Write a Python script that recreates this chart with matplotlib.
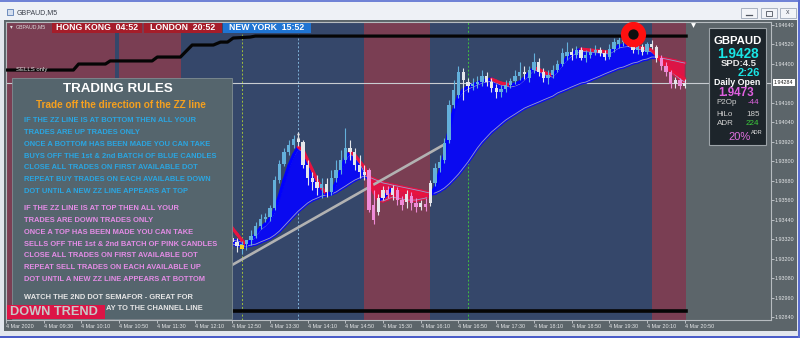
import numpy as np
import matplotlib
matplotlib.use("Agg")
import matplotlib.pyplot as plt
from matplotlib import font_manager
from matplotlib.collections import LineCollection
from matplotlib.patches import Rectangle
from matplotlib.transforms import blended_transform_factory

plt.rcParams['font.family'] = ['Liberation Sans', 'DejaVu Sans']

# ---- GBPAUD M5, 4 Mar 2020 (bar 0 = 08:50, one bar every 5 minutes) ----
bars = np.arange(47, 145)

opens = [1.93364, 1.93327, 1.93303, 1.93278, 1.93290, 1.93315, 1.93340, 1.93401, 1.93444, 1.93457,
         1.93512, 1.93684, 1.93783, 1.93857, 1.93900, 1.93937, 1.93918, 1.93777, 1.93697, 1.93672,
         1.93635, 1.93660, 1.93610, 1.93697, 1.93746, 1.93807, 1.93881, 1.93857, 1.93777, 1.93733,
         1.93746, 1.93530, 1.93487, 1.93573, 1.93623, 1.93592, 1.93623, 1.93561, 1.93549, 1.93586,
         1.93543, 1.93518, 1.93537, 1.93543, 1.93666, 1.93758, 1.93807, 1.93930, 1.94146, 1.94207,
         1.94349, 1.94287, 1.94263, 1.94275, 1.94287, 1.94324, 1.94287, 1.94250, 1.94226, 1.94244,
         1.94269, 1.94293, 1.94324, 1.94349, 1.94312, 1.94361, 1.94410, 1.94349, 1.94312, 1.94330,
         1.94361, 1.94398, 1.94447, 1.94472, 1.94453, 1.94484, 1.94435, 1.94453, 1.94472, 1.94484,
         1.94466, 1.94441, 1.94490, 1.94521, 1.94533, 1.94558, 1.94533, 1.94484, 1.94503, 1.94472,
         1.94521, 1.94503, 1.94435, 1.94386, 1.94349, 1.94275, 1.94300, 1.94263]
highs = [1.93389, 1.93346, 1.93327, 1.93309, 1.93315, 1.93377, 1.93426, 1.93475, 1.93481, 1.93530,
         1.93709, 1.93807, 1.93881, 1.93930, 1.93961, 1.93980, 1.93930, 1.93807, 1.93733, 1.93715,
         1.93697, 1.93697, 1.93746, 1.93807, 1.93869, 1.94004, 1.93930, 1.93881, 1.93838, 1.93777,
         1.93758, 1.93623, 1.93598, 1.93647, 1.93647, 1.93653, 1.93641, 1.93586, 1.93623, 1.93610,
         1.93573, 1.93561, 1.93573, 1.93684, 1.93789, 1.93838, 1.93943, 1.94177, 1.94300, 1.94386,
         1.94373, 1.94312, 1.94312, 1.94324, 1.94361, 1.94349, 1.94312, 1.94275, 1.94269, 1.94300,
         1.94312, 1.94361, 1.94410, 1.94386, 1.94386, 1.94466, 1.94435, 1.94373, 1.94361, 1.94392,
         1.94423, 1.94497, 1.94533, 1.94497, 1.94509, 1.94503, 1.94484, 1.94497, 1.94515, 1.94503,
         1.94484, 1.94521, 1.94558, 1.94564, 1.94577, 1.94583, 1.94589, 1.94521, 1.94521, 1.94533,
         1.94546, 1.94515, 1.94453, 1.94410, 1.94361, 1.94318, 1.94312, 1.94306]
lows = [1.93303, 1.93260, 1.93241, 1.93229, 1.93254, 1.93284, 1.93327, 1.93383, 1.93426, 1.93432,
        1.93500, 1.93666, 1.93770, 1.93838, 1.93881, 1.93893, 1.93758, 1.93653, 1.93623, 1.93592,
        1.93573, 1.93580, 1.93592, 1.93672, 1.93721, 1.93789, 1.93807, 1.93746, 1.93697, 1.93684,
        1.93487, 1.93413, 1.93469, 1.93561, 1.93573, 1.93561, 1.93530, 1.93500, 1.93512, 1.93500,
        1.93487, 1.93500, 1.93493, 1.93524, 1.93647, 1.93733, 1.93789, 1.93912, 1.94127, 1.94189,
        1.94177, 1.94226, 1.94238, 1.94250, 1.94263, 1.94263, 1.94226, 1.94189, 1.94195, 1.94226,
        1.94250, 1.94275, 1.94300, 1.94306, 1.94287, 1.94343, 1.94324, 1.94287, 1.94275, 1.94312,
        1.94349, 1.94386, 1.94423, 1.94423, 1.94435, 1.94423, 1.94410, 1.94435, 1.94453, 1.94447,
        1.94423, 1.94429, 1.94472, 1.94497, 1.94509, 1.94509, 1.94466, 1.94460, 1.94453, 1.94460,
        1.94490, 1.94410, 1.94361, 1.94324, 1.94250, 1.94250, 1.94244, 1.94250]
closes = [1.93327, 1.93303, 1.93278, 1.93290, 1.93315, 1.93340, 1.93401, 1.93444, 1.93457, 1.93512,
          1.93684, 1.93783, 1.93857, 1.93900, 1.93937, 1.93918, 1.93777, 1.93697, 1.93672, 1.93635,
          1.93660, 1.93610, 1.93697, 1.93746, 1.93807, 1.93881, 1.93857, 1.93777, 1.93733, 1.93715,
          1.93500, 1.93438, 1.93573, 1.93623, 1.93592, 1.93635, 1.93561, 1.93530, 1.93598, 1.93543,
          1.93518, 1.93543, 1.93518, 1.93666, 1.93758, 1.93795, 1.93912, 1.94146, 1.94238, 1.94349,
          1.94300, 1.94263, 1.94275, 1.94287, 1.94324, 1.94287, 1.94250, 1.94226, 1.94244, 1.94269,
          1.94293, 1.94324, 1.94349, 1.94337, 1.94361, 1.94410, 1.94349, 1.94312, 1.94330, 1.94361,
          1.94398, 1.94466, 1.94472, 1.94453, 1.94484, 1.94435, 1.94453, 1.94472, 1.94484, 1.94466,
          1.94441, 1.94490, 1.94533, 1.94546, 1.94558, 1.94533, 1.94484, 1.94503, 1.94472, 1.94521,
          1.94503, 1.94435, 1.94386, 1.94349, 1.94275, 1.94300, 1.94263, 1.94284]

# thick trend line (blue rising / red falling) and the two averages of the ribbon
trend_line = [1.93426, 1.93389, 1.93352, 1.93315, 1.93284, 1.93315, 1.93352, 1.93389, 1.93413, 1.93444,
              1.93500, 1.93586, 1.93684, 1.93770, 1.93838, 1.93887, 1.93869, 1.93807, 1.93746, 1.93684,
              1.93635, 1.93598, 1.93604, 1.93666, 1.93746, 1.93820, 1.93857, 1.93838, 1.93801, 1.93764,
              1.93697, 1.93623, 1.93561, 1.93573, 1.93604, 1.93635, 1.93629, 1.93623, 1.93617, 1.93610,
              1.93604, 1.93598, 1.93592, 1.93586, 1.93635, 1.93733, 1.93838, 1.93992, 1.94115, 1.94201,
              1.94238, 1.94257, 1.94269, 1.94281, 1.94293, 1.94300, 1.94306, 1.94293, 1.94281, 1.94275,
              1.94269, 1.94275, 1.94287, 1.94312, 1.94343, 1.94373, 1.94367, 1.94349, 1.94337, 1.94330,
              1.94361, 1.94398, 1.94435, 1.94460, 1.94478, 1.94490, 1.94487, 1.94484, 1.94481, 1.94478,
              1.94475, 1.94472, 1.94490, 1.94509, 1.94515, 1.94518, 1.94509, 1.94503, 1.94497, 1.94494,
              1.94484, 1.94453, 1.94423, 1.94392, 1.94361, 1.94343, 1.94324, 1.94306]
band_a = [1.93321, 1.93315, 1.93309, 1.93303, 1.93297, 1.93303, 1.93340, 1.93377, 1.93401, 1.93432,
          1.93487, 1.93573, 1.93672, 1.93758, 1.93826, 1.93875, 1.93857, 1.93795, 1.93733, 1.93672,
          1.93623, 1.93598, 1.93604, 1.93653, 1.93733, 1.93807, 1.93844, 1.93826, 1.93789, 1.93733,
          1.93684, 1.93610, 1.93561, 1.93555, 1.93567, 1.93580, 1.93573, 1.93567, 1.93561, 1.93561,
          1.93561, 1.93567, 1.93573, 1.93598, 1.93629, 1.93721, 1.93826, 1.93980, 1.94103, 1.94189,
          1.94226, 1.94244, 1.94257, 1.94269, 1.94281, 1.94287, 1.94293, 1.94281, 1.94269, 1.94263,
          1.94257, 1.94263, 1.94275, 1.94300, 1.94330, 1.94361, 1.94355, 1.94337, 1.94324, 1.94318,
          1.94349, 1.94386, 1.94423, 1.94447, 1.94466, 1.94478, 1.94475, 1.94472, 1.94469, 1.94466,
          1.94463, 1.94460, 1.94478, 1.94497, 1.94503, 1.94506, 1.94497, 1.94490, 1.94484, 1.94481,
          1.94472, 1.94447, 1.94417, 1.94386, 1.94355, 1.94330, 1.94306, 1.94287]
band_b = [1.93297, 1.93290, 1.93284, 1.93278, 1.93278, 1.93284, 1.93290, 1.93303, 1.93315, 1.93327,
          1.93346, 1.93370, 1.93401, 1.93432, 1.93463, 1.93493, 1.93518, 1.93543, 1.93561, 1.93573,
          1.93586, 1.93592, 1.93598, 1.93610, 1.93629, 1.93647, 1.93666, 1.93684, 1.93697, 1.93709,
          1.93703, 1.93690, 1.93678, 1.93666, 1.93660, 1.93653, 1.93647, 1.93641, 1.93635, 1.93629,
          1.93623, 1.93617, 1.93610, 1.93604, 1.93604, 1.93617, 1.93635, 1.93660, 1.93690, 1.93721,
          1.93758, 1.93795, 1.93838, 1.93881, 1.93918, 1.93949, 1.93980, 1.94004, 1.94029, 1.94053,
          1.94072, 1.94090, 1.94109, 1.94127, 1.94140, 1.94152, 1.94164, 1.94177, 1.94189, 1.94201,
          1.94220, 1.94232, 1.94244, 1.94257, 1.94269, 1.94281, 1.94287, 1.94300, 1.94312, 1.94324,
          1.94337, 1.94349, 1.94361, 1.94373, 1.94380, 1.94392, 1.94404, 1.94410, 1.94423, 1.94429,
          1.94441, 1.94441, 1.94435, 1.94429, 1.94423, 1.94417, 1.94410, 1.94404]

# ZZ lines, channel line, price line
zz_top_bars = [0, 14.3, 15.4, 21.1, 22.1, 31.0, 32.1, 37.0, 39.5, 44.0, 45.5, 47.0, 48.2, 51.8, 52.9, 144.3]
zz_top_prices = [1.94361, 1.94361, 1.94398, 1.94398, 1.94417, 1.94417, 1.94441, 1.94441, 1.94515,
                 1.94515, 1.94533, 1.94533, 1.94558, 1.94564, 1.94570, 1.94570]
zz_bottom_bars = [30, 144.3]
zz_bottom_prices = [1.92878, 1.92878]
channel_bars = [40, 92.8]
channel_prices = [1.93030, 1.93900]
current_price = 1.94284
semafor_top = (133, 1.94580)

# background zones (bar edges) and session opens (13:00, 14:00, 17:00)
zone_edges = [-1, 23.2, 24.05, 37.2, 76, 90, 137.1, 144.3]
zone_colors = ['#7a3e53', '#35476a', '#7a3e53', '#35476a', '#7a3e53', '#35476a', '#7a3e53']
session_lines = [50, 62, 98]
session_line_colors = ['#9fbf3c', '#7fb2d8', '#3fbf3f']

time_ticks = list(range(0, 145, 8))
time_labels = ['4 Mar 2020', '4 Mar 09:30', '4 Mar 10:10', '4 Mar 10:50', '4 Mar 11:30', '4 Mar 12:10',
               '4 Mar 12:50', '4 Mar 13:30', '4 Mar 14:10', '4 Mar 14:50', '4 Mar 15:30', '4 Mar 16:10',
               '4 Mar 16:50', '4 Mar 17:30', '4 Mar 18:10', '4 Mar 18:50', '4 Mar 19:30', '4 Mar 20:10',
               '4 Mar 20:50']
price_ticks = [1.92840, 1.92960, 1.93080, 1.93200, 1.93320, 1.93440, 1.93560, 1.93680, 1.93800,
               1.93920, 1.94040, 1.94160, 1.94400, 1.94520, 1.94640]

market_names = ['HONG KONG', 'LONDON', 'NEW YORK']
market_times = ['04:52', '20:52', '15:52']

buy_rules = ['IF THE ZZ LINE IS AT BOTTOM THEN ALL YOUR',
             'TRADES ARE UP TRADES ONLY',
             'ONCE A BOTTOM HAS BEEN MADE YOU CAN TAKE',
             'BUYS OFF THE 1st & 2nd BATCH OF BLUE CANDLES',
             'CLOSE ALL TRADES ON FIRST AVAILABLE DOT',
             'REPEAT BUY TRADES ON EACH AVAILABLE DOWN',
             'DOT UNTIL A NEW ZZ LINE APPEARS AT TOP']
sell_rules = ['IF THE ZZ LINE IS AT TOP THEN ALL YOUR',
              'TRADES ARE DOWN TRADES ONLY',
              'ONCE A TOP HAS BEEN MADE YOU CAN TAKE',
              'SELLS OFF THE 1st & 2nd BATCH OF PINK CANDLES',
              'CLOSE ALL TRADES ON FIRST AVAILABLE DOT',
              'REPEAT SELL TRADES ON EACH AVAILABLE UP',
              'DOT UNTIL A NEW ZZ LINE APPEARS AT BOTTOM']
# second note line is partly hidden behind the DOWN TREND badge; only its visible end is drawn
note_lines = ['WATCH THE 2ND DOT SEMAFOR - GREAT FOR', 'AY TO THE CHANNEL LINE']
note_x = [24, 106]

# ---- figure ----
W, H = 800, 338
fig = plt.figure(figsize=(8, 3.38), dpi=100)


def box(x0, y0, x1, y1):
    return [x0 / W, 1 - y1 / H, (x1 - x0) / W, (y1 - y0) / H]


bg = fig.add_axes([0, 0, 1, 1], zorder=0)
bg.set_xlim(0, W)
bg.set_ylim(H, 0)
bg.axis('off')
ax = fig.add_axes(box(6, 22, 771, 320), zorder=1)
ov = fig.add_axes([0, 0, 1, 1], zorder=2)
ov.set_xlim(0, W)
ov.set_ylim(H, 0)
ov.axis('off')

# window chrome
bg.add_patch(Rectangle((0, 0), W, H, fc='#e2e6ed', ec='none'))
bg.add_patch(Rectangle((0, 0), W, 2, fc='#7083d6', ec='none'))
bg.add_patch(Rectangle((0, 2), W, 18, fc='#eef1f6', ec='none'))
bg.add_patch(Rectangle((4, 20), 793, 311, fc='#5c656a', ec='none'))
bg.add_patch(Rectangle((0, 335.5), W, 2.5, fc='#4a5cc8', ec='none'))
bg.add_patch(Rectangle((798, 0), 2, H, fc='#5a6dd0', ec='none'))
bg.add_patch(Rectangle((7, 9), 6, 6, fc='#d4deee', ec='#5b7db5', lw=0.6))
bg.text(17, 13, 'GBPAUD,M5', fontsize=5, color='#3a3f4a', va='center')
for bx in [741, 761, 780]:
    bg.add_patch(Rectangle((bx, 8), 16, 10, fc='#f2f4f8', ec='#9ea8b8', lw=0.6))
bg.plot([746, 752], [15, 15], color='#505560', lw=0.9)
bg.add_patch(Rectangle((766, 10.5), 6, 5, fc='none', ec='#505560', lw=0.6))
bg.text(788, 12.8, 'x', fontsize=5, color='#505560', ha='center', va='center')

# chart
x = bars
a = np.array(band_a)
b = np.array(band_b)
t = np.array(trend_line)
o = np.array(opens)
c = np.array(closes)

ax.set_facecolor('#5c656a')
ax.set_xlim(0.08, 162.3)
ax.set_ylim(1.928228, 1.946566)
for lo, hi, col in zip(zone_edges[:-1], zone_edges[1:], zone_colors):
    ax.axvspan(lo, hi, color=col, lw=0, zorder=0)
for sb, col in zip(session_lines, session_line_colors):
    ax.axvline(sb, color=col, lw=0.7, ls=(0, (2, 2)), zorder=1)
ax.axhline(current_price, color='#c9cdd2', lw=0.8, zorder=1)


def segs(y):
    pts = np.column_stack([x, y])
    return np.stack([pts[:-1], pts[1:]], axis=1)


up = a >= b
ax.fill_between(x, a, b, where=up, interpolate=True, color='#0a0af0', lw=0, zorder=2)
ax.fill_between(x, a, b, where=~up, interpolate=True, color='#dc1446', lw=0, zorder=2)
seg_up = (a[:-1] + a[1:]) >= (b[:-1] + b[1:])
edge_cols = np.where(seg_up, '#0a0af0', '#dc1446')
for y in (a, b):
    ax.add_collection(LineCollection(segs(y), colors=edge_cols, lw=2.4, zorder=2.2, capstyle='round'))
    ax.plot(x, y, color='#9b9fc9', lw=0.6, zorder=2.5)

ax.plot(channel_bars, channel_prices, color='#b2b2b2', lw=1.9, zorder=3, solid_capstyle='butt')

rising = t[1:] > t[:-1]
ax.add_collection(LineCollection(segs(t), colors=np.where(rising, '#0000ff', '#e8133f'),
                                 lw=2.3, zorder=3.5, capstyle='round'))

bull = c >= o
cols = np.where(up, np.where(bull, '#63b0db', '#e4e6ea'), np.where(bull, '#e4e6ea', '#f08ad8'))
ax.vlines(x, lows, highs, colors=cols, lw=0.8, zorder=4)
ax.bar(x, c - o, bottom=o, width=0.7, color=cols, lw=0, zorder=4)

ax.plot(zz_top_bars, zz_top_prices, color='#050505', lw=2.3, zorder=5)
ax.plot(zz_bottom_bars, zz_bottom_prices, color='#050505', lw=2.6, zorder=5)
ax.scatter([semafor_top[0]], [semafor_top[1]], s=330, color='#ff1010', lw=0, zorder=6)
ax.scatter([semafor_top[0]], [semafor_top[1]], s=55, color='#101010', lw=0, zorder=6.5)
ax.scatter([50], [1.93272], s=8, marker='s', color='#f0d020', lw=0, zorder=6)
ax.scatter([62, 62], [1.93967, 1.93940], s=3, color='#dddddd', lw=0, zorder=6)

ax.yaxis.tick_right()
ax.set_yticks(price_ticks)
ax.set_yticklabels([f'{v:.5f}' for v in price_ticks])
ax.set_xticks(time_ticks)
ax.set_xticklabels(time_labels, ha='left')
ax.tick_params(axis='both', colors='#c9cdd1', labelcolor='#e4e6e8', labelsize=3.9,
               length=2, width=0.6, pad=0.8, direction='out')
for s in ax.spines.values():
    s.set_color('#b7bcc0')
    s.set_linewidth(0.8)
tr = blended_transform_factory(ax.transAxes, ax.transData)
ax.text(1.004, current_price, f'{current_price:.5f}', transform=tr, fontsize=3.9, color='#1e1e1e',
        va='center', ha='left', clip_on=False, zorder=10,
        bbox=dict(fc='white', ec='none', boxstyle='square,pad=0.25'))

# overlay: session clocks and labels
ov.text(11.5, 27, '▾', fontsize=4, color='#e0e0e0', va='center', ha='center')
ov.text(15.5, 27, 'GBPAUD,M5', fontsize=3.8, color='#dcdcdc', va='center')
for (x0, x1), name, tm, col in zip([(52, 142), (144, 222), (223, 311)], market_names, market_times,
                                   ['#a51d2a', '#a51d2a', '#1f74d2']):
    ov.add_patch(Rectangle((x0, 22.7), x1 - x0, 10, fc=col, ec='none'))
    ov.text((x0 + x1) / 2, 27.9, f'{name}  {tm}', fontsize=6.3, weight='bold', color='white',
            ha='center', va='center')
ov.text(16, 70, 'SELLS only', fontsize=4.3, color='#e6e6e6', va='center')
ov.plot(693, 24.5, marker='v', ms=3.5, color='white', mew=0)

# trading rules panel
ov.add_patch(Rectangle((12, 78), 220, 240.5, fc='#55656d', ec='#808d93', lw=0.6))
ov.text(117.5, 89, 'TRADING RULES', fontsize=9.6, weight='bold', color='white', ha='center', va='center')
ov.text(120.5, 105, 'Trade off the direction of the ZZ line', fontsize=7.2, weight='bold',
        color='#f5a01e', ha='center', va='center')
for k, line in enumerate(buy_rules):
    ov.text(24, 120.7 + 11.8 * k, line, fontsize=5.4, weight='bold', color='#2aa6e2', va='center')
for k, line in enumerate(sell_rules):
    ov.text(24, 209 + 11.7 * k, line, fontsize=5.4, weight='bold', color='#e48ce6', va='center')
for k, line in enumerate(note_lines):
    ov.text(note_x[k], 297.3 + 11.7 * k, line, fontsize=5.4, weight='bold', color='#e6e6e6', va='center')
ov.add_patch(Rectangle((7, 304.5), 98, 14.5, fc='#dc1446', ec='none', zorder=5))
ov.text(10.5, 312, 'DOWN TREND', fontsize=9.2, weight='bold', color='#c8c8c8', va='center', zorder=6)

# info box
names = {f.name for f in font_manager.fontManager.ttflist}
if 'Liberation Sans Narrow' in names:
    head_font, head_size = ['Liberation Sans Narrow', 'DejaVu Sans'], 10
else:
    head_font, head_size = ['Liberation Sans', 'DejaVu Sans'], 8.2
ov.add_patch(Rectangle((709, 28), 57, 116.5, fc='#1d252b', ec='#9ca3a8', lw=0.8))
ov.text(737.5, 41, 'GBPAUD', family=head_font, fontsize=head_size, weight='bold', color='white',
        ha='center', va='center')
ov.text(737.5, 53.5, '1.9428', fontsize=9.8, weight='bold', color='#19e6e6', ha='center', va='center')
ov.text(738.5, 63.8, 'SPD:4.5', fontsize=6.8, weight='bold', color='#e6e6e6', ha='center', va='center')
ov.text(759.5, 73.3, '2:26', fontsize=8, weight='bold', color='#19e6e6', ha='right', va='center')
ov.text(737.5, 82.5, 'Daily Open', fontsize=6.4, weight='bold', color='white', ha='center', va='center')
ov.text(736.5, 93, '1.9473', fontsize=8.4, weight='bold', color='#e060e0', ha='center', va='center')
for yy, lab, val, vcol in [(102.3, 'P2Op', '-44', '#e264e2'), (114, 'HiLo', '185', '#cfcfcf'),
                           (123.3, 'ADR', '224', '#3ccd3c')]:
    ov.text(716.5, yy, lab, fontsize=5.8, color='#cfcfcf', va='center')
    ov.text(759.5, yy, val, fontsize=5.8, color=vcol, ha='right', va='center')
ov.text(750.5, 136.5, '20%', fontsize=8, color='#e070e0', ha='right', va='center')
ov.text(751, 133, 'ADR', fontsize=4, color='#e6e6e6', ha='left', va='center')

fig.savefig('out.png', dpi=100)
